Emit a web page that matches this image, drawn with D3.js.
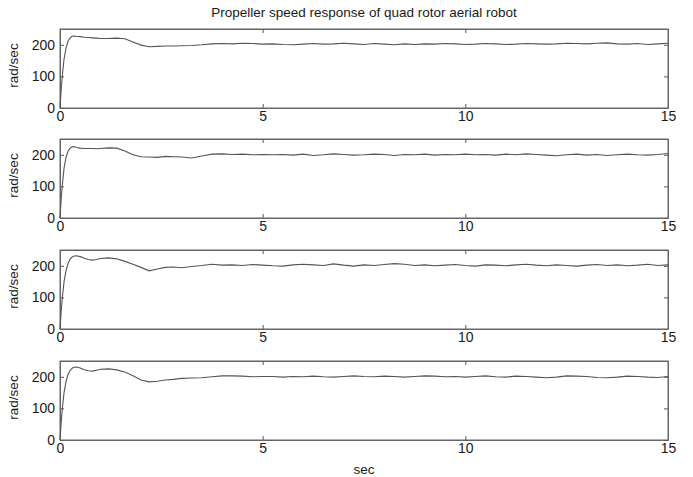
<!DOCTYPE html>
<html>
<head>
<meta charset="utf-8">
<script src="https://cdn.jsdelivr.net/npm/d3@7"></script>
<style>
  body { margin: 0; background: #fff; }
  text { font-family: "Liberation Sans", Arial, sans-serif; fill: #1a1a1a; }
</style>
</head>
<body>
<svg></svg>
<script>
var WIDTH = 693;
var HEIGHT = 477;

var title = "Propeller speed response of quad rotor aerial robot";
var xLabel = "sec";
var yLabel = "rad/sec";
var xTicks = [0, 5, 10, 15];
var yTicks = [0, 100, 200];

// sample times (s)
var time = [0, 0.03, 0.06, 0.1, 0.15, 0.2, 0.25, 0.3, 0.35, 0.4,
    0.5, 0.6, 0.7, 0.8, 0.9, 1.0,
    1.2, 1.4, 1.6, 1.8, 2.0, 2.2, 2.4, 2.6, 2.8, 3.0,
    3.25, 3.5, 3.75, 4.0, 4.25, 4.5, 4.75, 5.0,
    5.25, 5.5, 5.75, 6.0, 6.25, 6.5, 6.75, 7.0, 7.25, 7.5,
    7.75, 8.0, 8.25, 8.5, 8.75, 9.0, 9.25, 9.5, 9.75, 10.0,
    10.25, 10.5, 10.75, 11.0, 11.25, 11.5, 11.75, 12.0, 12.25, 12.5,
    12.75, 13.0, 13.25, 13.5, 13.75, 14.0, 14.25, 14.5, 14.75, 15.0];

// propeller speed of each rotor (rad/sec)
var rotor1 = [0, 60, 105, 155, 190, 212, 222, 227, 228, 227,
    226, 224, 223, 222, 221, 220,
    220, 221, 219, 209, 199, 194, 195, 196, 196, 197,
    198, 200, 203, 204, 203, 205, 204, 202,
    203, 201, 200, 202, 204, 202, 203, 205, 203, 201,
    204, 202, 200, 203, 201, 203, 202, 204, 203, 201,
    202, 204, 203, 201, 202, 204, 203, 202, 203, 205,
    204, 203, 205, 206, 203, 202, 204, 201, 203, 205];

var rotor2 = [0, 62, 108, 158, 193, 212, 221, 225, 226, 223,
    221, 220, 220, 220, 219, 220,
    222, 221, 212, 200, 194, 193, 192, 195, 194, 193,
    190, 196, 202, 203, 201, 202, 200, 201,
    200, 201, 199, 202, 198, 200, 203, 201, 199, 200,
    202, 201, 198, 201, 200, 202, 199, 201, 200, 202,
    200, 201, 199, 202, 200, 203, 201, 199, 197, 200,
    202, 199, 201, 198, 200, 202, 200, 199, 201, 204];

var rotor3 = [0, 58, 102, 150, 186, 208, 221, 228, 231, 232,
    229, 224, 220, 218, 220, 223,
    225, 222, 214, 205, 195, 184, 190, 195, 196, 194,
    198, 201, 205, 202, 203, 201, 204, 202,
    200, 199, 203, 205, 203, 201, 206, 202, 199, 203,
    201, 204, 207, 205, 201, 203, 200, 202, 204, 201,
    199, 203, 202, 200, 203, 205, 202, 200, 203, 201,
    199, 202, 204, 201, 203, 200, 202, 205, 201, 203];

var rotor4 = [0, 58, 102, 150, 186, 208, 220, 227, 230, 231,
    228, 222, 219, 218, 221, 224,
    225, 222, 215, 203, 190, 184, 186, 190, 192, 195,
    196, 197, 200, 203, 203, 202, 200, 201,
    201, 199, 201, 200, 202, 200, 199, 201, 203, 201,
    200, 202, 201, 199, 201, 203, 202, 200, 201, 199,
    201, 203, 200, 199, 202, 201, 199, 197, 199, 203,
    202, 201, 198, 197, 199, 202, 201, 199, 198, 201];

var rotors = [rotor1, rotor2, rotor3, rotor4];

var left = 60, right = 668;
var panelTops = [29, 139, 250, 361];
var panelH = 79;

var svg = d3.select("svg")
    .attr("width", WIDTH)
    .attr("height", HEIGHT);

var x = d3.scaleLinear().domain([0, 15]).range([left, right]);

svg.append("text")
    .attr("x", (left + right) / 2)
    .attr("y", 17)
    .attr("text-anchor", "middle")
    .style("font-size", "13.5px")
    .text(title);

rotors.forEach(function(values, i) {
    var top = panelTops[i];
    var y = d3.scaleLinear().domain([0, 250]).range([top + panelH, top]);
    var g = svg.append("g");

    // inward ticks on all four sides, like matlab's box
    g.append("g")
        .attr("transform", "translate(0," + (top + panelH) + ")")
        .call(d3.axisBottom(x).tickValues(xTicks).tickSizeInner(-4).tickSizeOuter(0).tickPadding(3));
    g.append("g")
        .attr("transform", "translate(0," + top + ")")
        .call(d3.axisTop(x).tickValues(xTicks).tickSizeInner(-4).tickSizeOuter(0).tickFormat(""));
    g.append("g")
        .attr("transform", "translate(" + left + ",0)")
        .call(d3.axisLeft(y).tickValues(yTicks).tickSizeInner(-4).tickSizeOuter(0).tickPadding(5));
    g.append("g")
        .attr("transform", "translate(" + right + ",0)")
        .call(d3.axisRight(y).tickValues(yTicks).tickSizeInner(-4).tickSizeOuter(0).tickFormat(""));

    g.selectAll(".domain").attr("stroke", "#666");
    g.selectAll(".tick line").attr("stroke", "#555");
    g.selectAll(".tick text")
        .style("font-family", "'Liberation Sans', Arial, sans-serif")
        .style("font-size", "14px")
        .attr("fill", "#1a1a1a");

    g.append("rect")
        .attr("x", left)
        .attr("y", top)
        .attr("width", right - left)
        .attr("height", panelH)
        .attr("fill", "none")
        .attr("stroke", "#666");

    var line = d3.line()
        .x(function(d, j) { return x(time[j]); })
        .y(function(d) { return y(d); });

    g.append("path")
        .datum(values)
        .attr("d", line)
        .attr("fill", "none")
        .attr("stroke", "#555")
        .attr("stroke-width", 1.1);

    g.append("text")
        .attr("transform", "translate(18," + (top + panelH / 2 - 3) + ") rotate(-90)")
        .attr("text-anchor", "middle")
        .style("font-size", "13.5px")
        .text(yLabel);
});

svg.append("text")
    .attr("x", (left + right) / 2)
    .attr("y", 474)
    .attr("text-anchor", "middle")
    .style("font-size", "13.5px")
    .text(xLabel);
</script>
</body>
</html>
